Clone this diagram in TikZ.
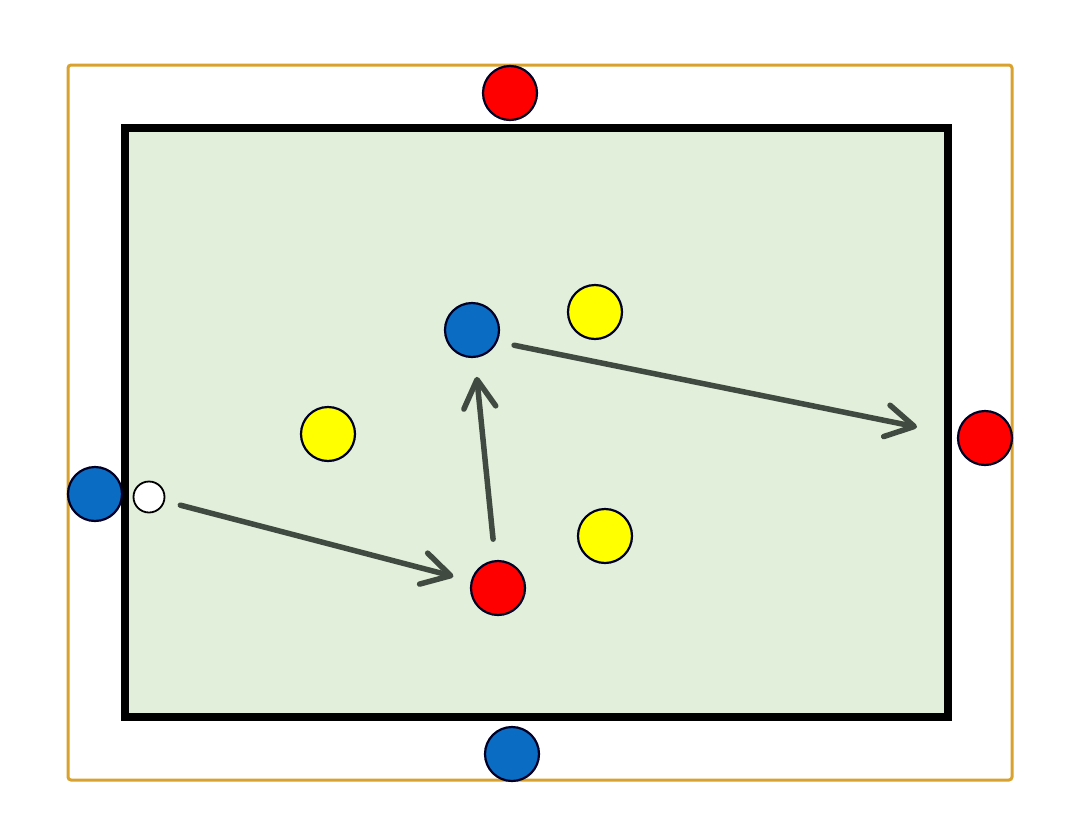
\documentclass[tikz,border=0pt]{standalone}
\usetikzlibrary{arrows.meta}
\definecolor{pitchgreen}{HTML}{E2EFDA}
\definecolor{fenceorange}{HTML}{D9A22E}
\definecolor{passgray}{HTML}{404A40}
\definecolor{teamblue}{HTML}{0A6CC2}
\definecolor{teamred}{HTML}{FF0000}
\definecolor{teamyellow}{HTML}{FFFF00}
\begin{document}
\begin{tikzpicture}[x=1pt, y=-1pt,
  player/.style={circle, draw=black!85!blue, line width=2.2pt, minimum size=54pt, inner sep=0pt},
  blueplayer/.style={player, fill=teamblue},
  redplayer/.style={player, fill=teamred},
  yellowplayer/.style={player, fill=teamyellow},
  ballstyle/.style={circle, draw=black, line width=1.8pt, fill=white, minimum size=31pt, inner sep=0pt},
  pass/.style={passgray, line width=5.5pt, line cap=round, line join=round,
    -{Straight Barb[length=28pt, width=32pt, line join=round, line cap=round]}}]
  \useasboundingbox (0,0) rectangle (1080,833);
  % outer area
  \draw[fenceorange, line width=3pt, rounded corners=3pt] (68,65) rectangle (1012,780);
  % pitch
  \draw[fill=pitchgreen, line width=8pt] (125,128) rectangle (948,717);
  % players outside
  \node[redplayer] (rtop) at (510,93) {};
  \node[redplayer] (rright) at (985,438) {};
  \node[blueplayer] (bleft) at (95,494) {};
  \node[blueplayer] (bbottom) at (512,754) {};
  % players inside
  \node[blueplayer] (bmid) at (472,330) {};
  \node[redplayer] (rmid) at (498,588) {};
  \node[yellowplayer] (y1) at (595,312) {};
  \node[yellowplayer] (y2) at (328,434) {};
  \node[yellowplayer] (y3) at (605,536) {};
  % ball
  \node[ballstyle] (ball) at (149,497) {};
  % passes
  \coordinate (target) at (917,427);
  \draw[pass, shorten <=16pt, shorten >=18pt] (ball) -- (rmid);
  \draw[pass, shorten <=21pt, shorten >=19pt] (rmid) -- (bmid);
  \draw[pass, shorten <=17pt] (bmid.-25) -- (target);
\end{tikzpicture}
\end{document}
